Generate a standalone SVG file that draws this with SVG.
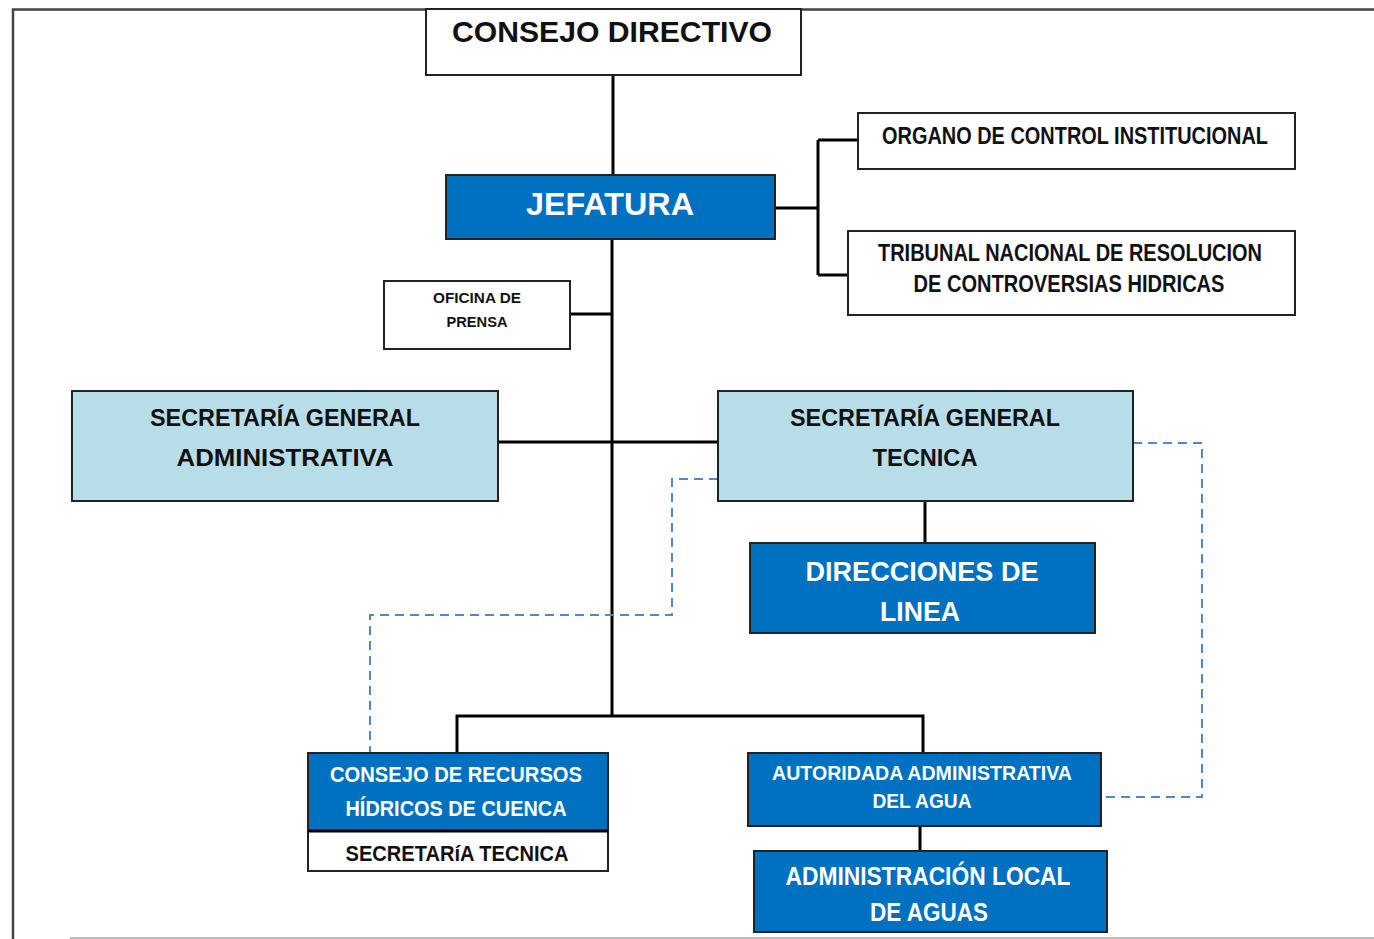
<svg xmlns="http://www.w3.org/2000/svg" width="1374" height="939" viewBox="0 0 1374 939">
<style>
.box{stroke:#222;stroke-width:2}
.w{fill:#ffffff}
.b{fill:#0070c0}
.l{fill:#b7dde8}
.t{font-family:"Liberation Sans",Arial,sans-serif;font-weight:bold;text-anchor:middle}
.tk{fill:#111}
.tw{fill:#ffffff}
.c{stroke:#000;stroke-width:3;fill:none}
.d{stroke:#4f86cc;stroke-width:2;fill:none;stroke-dasharray:9 6}
</style>
<rect width="1374" height="939" fill="#ffffff"/>
<g id="frame">
<path d="M13 939 V9.5 H1374" fill="none" stroke="#444" stroke-width="2.5"/>
<path d="M70 938 H1374" stroke="#bbb" stroke-width="2"/>
</g>
<g id="connectors">
<path class="c" d="M613 75 V175"/>
<path class="c" d="M612 239 V716"/>
<path class="c" d="M775 208 H818 M818 140 V275 M818 140 H858 M818 275 H848"/>
<path class="c" d="M570 314 H612"/>
<path class="c" d="M498 442 H718"/>
<path class="c" d="M925 501 V543"/>
<path class="c" d="M457 753 V716 H923 V753"/>
<path class="c" d="M920 826 V851"/>
<path class="d" d="M1133 443 H1202 V797 H1101"/>
<path class="d" d="M718 479 H672 V615 H370 V753"/>
</g>
<g id="consejo-directivo">
<rect class="box w" x="426" y="9" width="375" height="66"/>
<text class="t tk" x="612" y="42" font-size="30" textLength="320" lengthAdjust="spacingAndGlyphs">CONSEJO DIRECTIVO</text>
</g>
<g id="jefatura">
<rect class="box b" x="446" y="175" width="329" height="64"/>
<text class="t tw" x="610" y="215" font-size="32" textLength="168" lengthAdjust="spacingAndGlyphs">JEFATURA</text>
</g>
<g id="organo-control">
<rect class="box w" x="858" y="113" width="437" height="56"/>
<text class="t tk" x="1075" y="144" font-size="23" textLength="386" lengthAdjust="spacingAndGlyphs">ORGANO DE CONTROL INSTITUCIONAL</text>
</g>
<g id="tribunal">
<rect class="box w" x="848" y="231" width="447" height="84"/>
<text class="t tk" x="1070" y="261" font-size="23" textLength="384" lengthAdjust="spacingAndGlyphs">TRIBUNAL NACIONAL DE RESOLUCION</text>
<text class="t tk" x="1069" y="292" font-size="23" textLength="311" lengthAdjust="spacingAndGlyphs">DE CONTROVERSIAS HIDRICAS</text>
</g>
<g id="oficina-prensa">
<rect class="box w" x="384" y="281" width="186" height="68"/>
<text class="t tk" x="477" y="303" font-size="14" textLength="88" lengthAdjust="spacingAndGlyphs">OFICINA  DE</text>
<text class="t tk" x="477" y="327" font-size="14" textLength="61" lengthAdjust="spacingAndGlyphs">PRENSA</text>
</g>
<g id="sec-gral-administrativa">
<rect class="box l" x="72" y="391" width="426" height="110"/>
<text class="t tk" x="285" y="426" font-size="24" textLength="270" lengthAdjust="spacingAndGlyphs">SECRETARÍA GENERAL</text>
<text class="t tk" x="285" y="466" font-size="24" textLength="217" lengthAdjust="spacingAndGlyphs">ADMINISTRATIVA</text>
</g>
<g id="sec-gral-tecnica">
<rect class="box l" x="718" y="391" width="415" height="110"/>
<text class="t tk" x="925" y="426" font-size="24" textLength="270" lengthAdjust="spacingAndGlyphs">SECRETARÍA GENERAL</text>
<text class="t tk" x="925" y="466" font-size="24" textLength="105" lengthAdjust="spacingAndGlyphs">TECNICA</text>
</g>
<g id="direcciones-linea">
<rect class="box b" x="750" y="543" width="345" height="90"/>
<text class="t tw" x="922" y="581" font-size="27" textLength="233" lengthAdjust="spacingAndGlyphs">DIRECCIONES DE</text>
<text class="t tw" x="920" y="621" font-size="27" textLength="80" lengthAdjust="spacingAndGlyphs">LINEA</text>
</g>
<g id="consejo-recursos">
<rect class="box b" x="308" y="753" width="300" height="78"/>
<text class="t tw" x="456" y="782" font-size="22" textLength="252" lengthAdjust="spacingAndGlyphs">CONSEJO DE RECURSOS</text>
<text class="t tw" x="456" y="816" font-size="22" textLength="221" lengthAdjust="spacingAndGlyphs">HÍDRICOS DE CUENCA</text>
</g>
<g id="secretaria-tecnica">
<rect class="box w" x="308" y="831" width="300" height="40"/>
<path d="M308 831 H608" stroke="#000" stroke-width="3"/>
<text class="t tk" x="457" y="861" font-size="22" font-weight="normal" textLength="223" lengthAdjust="spacingAndGlyphs">SECRETARíA TECNICA</text>
</g>
<g id="autoridad-agua">
<rect class="box b" x="748" y="753" width="353" height="73"/>
<text class="t tw" x="922" y="780" font-size="20" textLength="300" lengthAdjust="spacingAndGlyphs">AUTORIDADA ADMINISTRATIVA</text>
<text class="t tw" x="922" y="808" font-size="20" textLength="99" lengthAdjust="spacingAndGlyphs">DEL AGUA</text>
</g>
<g id="administracion-local">
<rect class="box b" x="754" y="851" width="353" height="81"/>
<text class="t tw" x="928" y="885" font-size="26" textLength="285" lengthAdjust="spacingAndGlyphs">ADMINISTRACIÓN LOCAL</text>
<text class="t tw" x="929" y="921" font-size="26" textLength="118" lengthAdjust="spacingAndGlyphs">DE AGUAS</text>
</g>
</svg>
